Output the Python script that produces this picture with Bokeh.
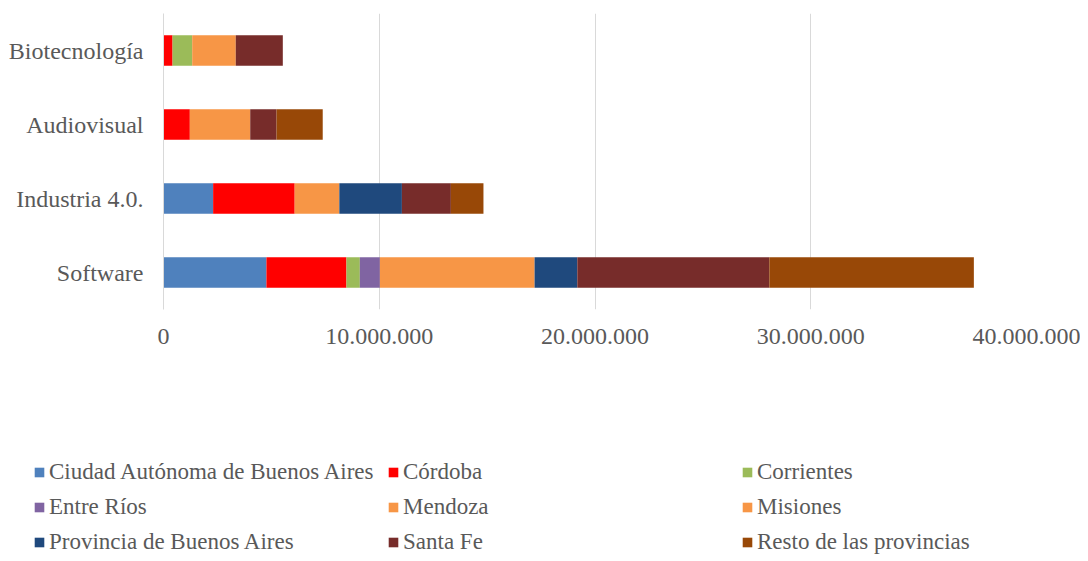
from bokeh.plotting import figure
from bokeh.layouts import column
from bokeh.models import (ColumnDataSource, FactorRange, Range1d, Legend, LegendItem,
                          FixedTicker)
from bokeh.embed import file_html
from bokeh.resources import INLINE

# ---- data ----
categories = ["Software", "Industria 4.0.", "Audiovisual", "Biotecnología"]

series_names = ["Ciudad Autónoma de Buenos Aires", "Córdoba", "Corrientes",
                "Entre Ríos", "Mendoza", "Misiones",
                "Provincia de Buenos Aires", "Santa Fe", "Resto de las provincias"]

caba       = [4770000, 2300000, 0, 0]
cordoba    = [3710000, 3780000, 1220000, 420000]
corrientes = [620000, 0, 0, 910000]
entre_rios = [930000, 0, 0, 0]
mendoza    = [7170000, 2070000, 2800000, 2020000]
misiones   = [0, 0, 0, 0]
prov_ba    = [1980000, 2900000, 0, 0]
santa_fe   = [8900000, 2270000, 1220000, 2180000]
resto      = [9480000, 1510000, 2140000, 0]

tick_values = [0, 10000000, 20000000, 30000000, 40000000]
tick_labels = ["0", "10.000.000", "20.000.000", "30.000.000", "40.000.000"]

colors = ["#4f81bd", "#ff0000", "#9bbb59", "#8064a2", "#f79646",
          "#f79646", "#1f497d", "#772c2a", "#984807"]

keys = ["caba", "cordoba", "corrientes", "entre_rios", "mendoza", "misiones",
        "prov_ba", "santa_fe", "resto"]
source = ColumnDataSource(dict(cat=categories, caba=caba, cordoba=cordoba,
                               corrientes=corrientes, entre_rios=entre_rios,
                               mendoza=mendoza, misiones=misiones, prov_ba=prov_ba,
                               santa_fe=santa_fe, resto=resto))

FONT = "Liberation Serif"
TXT = "#595959"

# ---- main chart ----
p = figure(width=1080, height=420,
           y_range=FactorRange(factors=categories),
           x_range=Range1d(0, 40000000),
           output_backend="svg", toolbar_location=None,
           min_border_left=163, min_border_right=54,
           min_border_top=13, min_border_bottom=111)
p.frame_align = False

p.hbar_stack(keys, y="cat", height=0.41, color=colors, line_color=None, source=source)

p.outline_line_color = None
p.ygrid.grid_line_color = None
p.xgrid.grid_line_color = "#d9d9d9"
p.xgrid.grid_line_width = 1

p.xaxis.ticker = FixedTicker(ticks=tick_values)
p.xaxis.major_label_overrides = dict(zip(tick_values, tick_labels))
p.xaxis.axis_line_color = None
p.xaxis.major_tick_line_color = None
p.xaxis.minor_tick_line_color = None
p.xaxis.major_label_standoff = 13
p.xaxis.major_label_text_font = FONT
p.xaxis.major_label_text_font_size = "24px"
p.xaxis.major_label_text_color = TXT

p.yaxis.axis_line_color = "#d9d9d9"
p.yaxis.major_tick_line_color = None
p.yaxis.minor_tick_line_color = None
p.yaxis.major_label_standoff = 14
p.yaxis.major_label_text_font = FONT
p.yaxis.major_label_text_font_size = "24px"
p.yaxis.major_label_text_color = TXT

# ---- legend strip: its own figure, swatch bars placed far outside its visible range ----
q = figure(width=1080, height=135, min_border=0,
           x_range=Range1d(0, 1), y_range=Range1d(0, 1),
           x_axis_type=None, y_axis_type=None,
           output_backend="svg", toolbar_location=None)
q.frame_align = False
q.outline_line_color = None
q.grid.grid_line_color = None
swatches = [q.hbar(y=-50, left=0, right=1, height=1, color=c, line_color=None)
            for c in colors]

items = [LegendItem(label=n, renderers=[r]) for n, r in zip(series_names, swatches)]
legend = Legend(items=items, ncols=3, orientation="horizontal",
                location=(33, 0), margin=0, padding=0,
                label_text_font=FONT, label_text_font_size="23px",
                label_text_color=TXT, glyph_width=12, glyph_height=12,
                label_standoff=4, label_width=330, label_height=27, spacing=8,
                border_line_color=None, background_fill_alpha=0)
q.add_layout(legend, "center")

layout = column(p, q, spacing=0)
open("out.html", "w").write(file_html(layout, INLINE))
